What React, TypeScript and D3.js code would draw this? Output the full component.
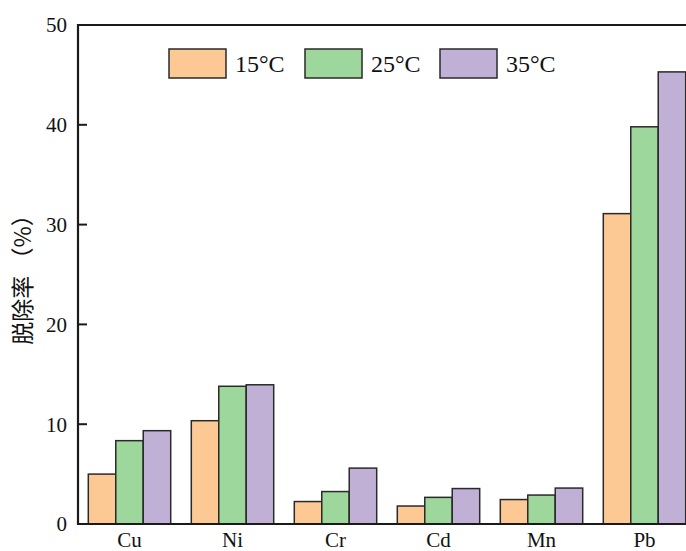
import React, { useEffect, useRef } from 'react';
import * as d3 from 'd3';

const metals = ['Cu', 'Ni', 'Cr', 'Cd', 'Mn', 'Pb'];
const temps = ['15°C', '25°C', '35°C'];
const removal15 = [5.0, 10.35, 2.25, 1.8, 2.45, 31.1];
const removal25 = [8.35, 13.8, 3.25, 2.67, 2.9, 39.8];
const removal35 = [9.35, 13.95, 5.6, 3.55, 3.6, 45.3];
const yTicks = [0, 10, 20, 30, 40, 50];
const colors = ['#FCC893', '#9DD79C', '#C1B0D6'];

export default function App() {
  const svgRef = useRef<SVGSVGElement>(null);

  useEffect(() => {
    if (!svgRef.current) return;
    d3.select(svgRef.current).selectAll('*').remove();

    const width = 686;
    const height = 551;
    const margin = { left: 78, top: 25, bottom: 524 };
    const plotRight = 696;

    const svg = d3.select(svgRef.current)
      .attr('width', width)
      .attr('height', height);

    const series = [removal15, removal25, removal35];

    const x0 = d3.scaleBand<string>()
      .domain(metals)
      .range([margin.left, plotRight])
      .paddingInner(0.2)
      .paddingOuter(0.1);

    const x1 = d3.scaleBand<string>()
      .domain(temps)
      .range([0, x0.bandwidth()]);

    const y = d3.scaleLinear()
      .domain([0, 50])
      .range([margin.bottom, margin.top]);

    const serif = '"Liberation Serif", "Times New Roman", serif';

    // bars
    temps.forEach((t, si) => {
      svg.append('g')
        .selectAll('rect')
        .data(series[si])
        .enter()
        .append('rect')
        .attr('x', (_d, i) => (x0(metals[i]) as number) + (x1(t) as number))
        .attr('y', d => y(d))
        .attr('width', x1.bandwidth())
        .attr('height', d => y(0) - y(d))
        .attr('fill', colors[si])
        .attr('stroke', '#2a2a2a')
        .attr('stroke-width', 1.5);
    });

    // axes frame
    svg.append('line')
      .attr('x1', margin.left).attr('x2', width + 10)
      .attr('y1', margin.top).attr('y2', margin.top)
      .attr('stroke', '#1a1a1a').attr('stroke-width', 2.2);
    svg.append('line')
      .attr('x1', margin.left).attr('x2', width + 10)
      .attr('y1', margin.bottom).attr('y2', margin.bottom)
      .attr('stroke', '#1a1a1a').attr('stroke-width', 2.2);
    svg.append('line')
      .attr('x1', margin.left).attr('x2', margin.left)
      .attr('y1', margin.top - 1).attr('y2', margin.bottom + 1)
      .attr('stroke', '#1a1a1a').attr('stroke-width', 2.2);

    // y ticks
    const yAxis = svg.append('g');
    yTicks.forEach(v => {
      if (v > 0 && v < 50) {
        yAxis.append('line')
          .attr('x1', margin.left).attr('x2', margin.left + 9)
          .attr('y1', y(v)).attr('y2', y(v))
          .attr('stroke', '#1a1a1a').attr('stroke-width', 2);
      }
      yAxis.append('text')
        .attr('x', margin.left - 11)
        .attr('y', y(v))
        .attr('dy', '0.35em')
        .attr('text-anchor', 'end')
        .style('font-family', serif)
        .style('font-size', '21px')
        .style('fill', '#111')
        .text(v);
    });

    // x labels
    svg.append('g')
      .selectAll('text')
      .data(metals)
      .enter()
      .append('text')
      .attr('x', d => (x0(d) as number) + x0.bandwidth() / 2)
      .attr('y', 547)
      .attr('text-anchor', 'middle')
      .style('font-family', serif)
      .style('font-size', '21px')
      .style('fill', '#111')
      .text(d => d);

    // y title
    svg.append('text')
      .attr('transform', `translate(31, 274) rotate(-90)`)
      .attr('text-anchor', 'middle')
      .style('font-family', '"Noto Sans CJK SC", sans-serif')
      .style('font-size', '23px')
      .style('fill', '#111')
      .text('脱除率 （%）');

    // legend
    const legendX = [169, 305, 440];
    temps.forEach((t, i) => {
      svg.append('rect')
        .attr('x', legendX[i]).attr('y', 49)
        .attr('width', 57).attr('height', 29)
        .attr('fill', colors[i])
        .attr('stroke', '#2a2a2a')
        .attr('stroke-width', 1.5);
      svg.append('text')
        .attr('x', legendX[i] + 66)
        .attr('y', 72)
        .style('font-family', serif)
        .style('font-size', '24px')
        .style('fill', '#111')
        .text(t);
    });
  }, []);

  return (
    <div style={{ position: 'fixed', left: 0, top: 0, width: 686, height: 551, background: '#fff' }}>
      <svg ref={svgRef} style={{ display: 'block' }}></svg>
    </div>
  );
}
